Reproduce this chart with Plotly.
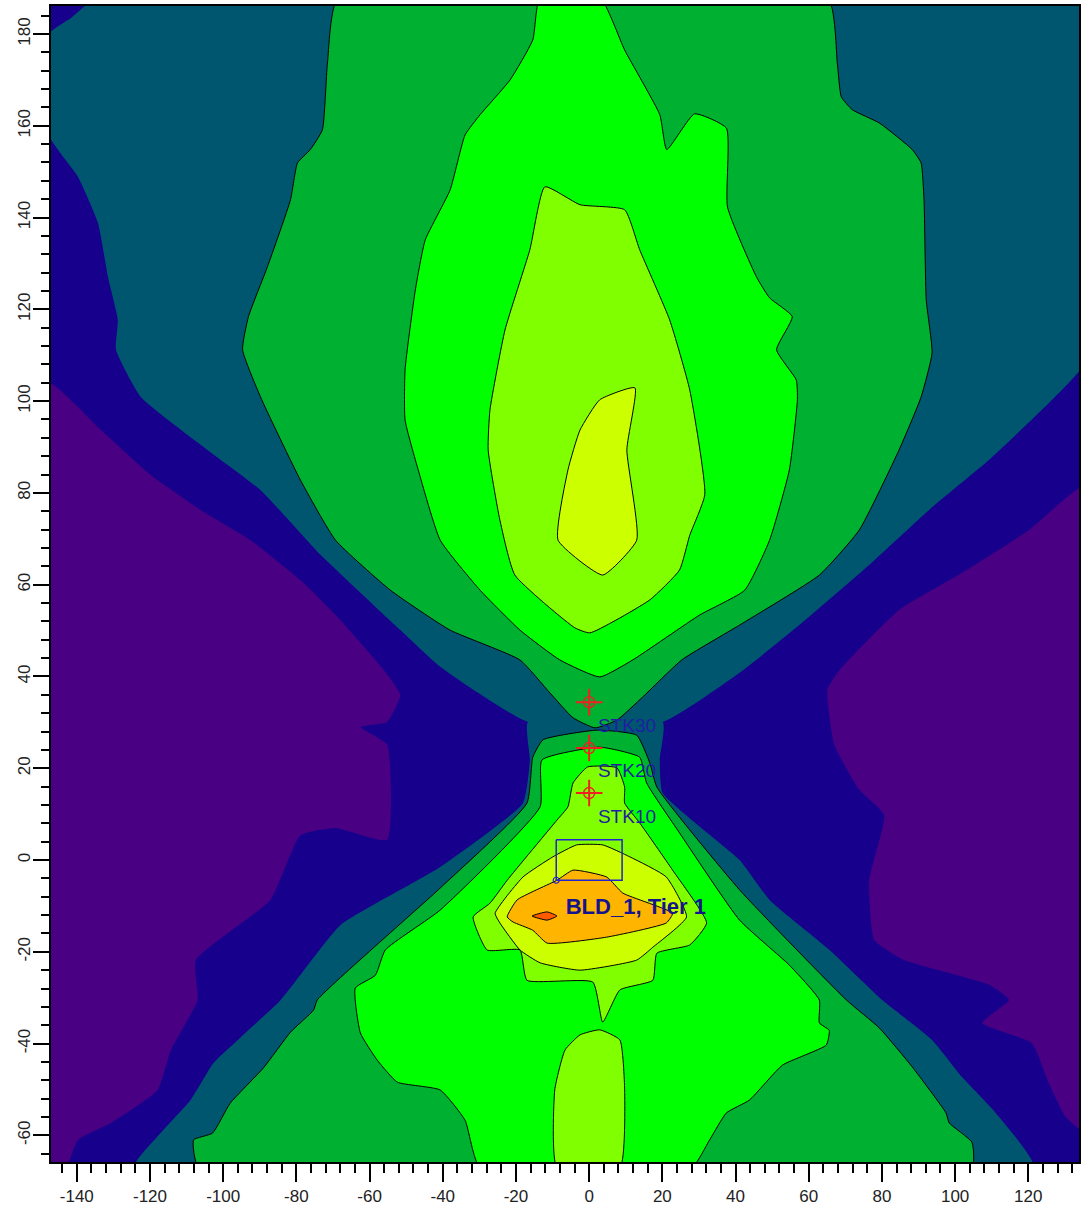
import plotly.graph_objects as go

# --- contour band outlines (x, y in axis units) ---
purple_left_x = [-148,-133.4,-119.8,-106.2,-92.5,-78.9,-68.0,-55.7,-51.6,-55.2,-62.5,-55.2,-55.2,-69.3,-78.9,-87.1,-107.5,-107,-114.3,-117.9,-130.7,-139.7,-143,-148]
purple_left_y = [104,93.7,83.9,76.3,69.7,61,52.3,41,36,30.1,29,25.1,4.4,7,5.4,-8.7,-21.8,-30.5,-41.4,-50.1,-57.3,-61,-67,-67]
purple_right_x = [136,120.2,101.1,84.7,68.4,65.1,67,73.8,80.6,76.5,77.9,86.1,109.3,114.7,107.4,121,125.6,130.2,136]
purple_right_y = [81.7,71.9,62.2,54.5,41.4,37.1,25.1,15.3,9.8,-4.4,-17.4,-21.8,-27.2,-30.5,-35.5,-39.9,-48.6,-56,-59.5]

teal_upper_x = [-148,-141.6,-134.2,136,136,126.5,109.3,92.9,76.5,57.4,41.1,20.1,-16.7,-40.7,-51.6,-73.4,-89.8,-106.2,-122.5,-129.3,-128.8,-131.5,-134.2,-139.7,-148]
teal_upper_y = [179.8,183.5,188,188,109,100.3,87.2,76.3,64.3,51.2,40.8,30.1,30.1,42.1,50.1,66.5,80.6,90.5,100.9,111.2,117.7,127.1,138.8,148.9,158.4]
teal_lower_x = [-16.7,20.1,19.3,20.1,41.1,49.3,65.7,80.1,93.7,101.9,111.1,121.5,-124.4,-117.1,-108.9,-102.6,-95.2,-84.3,-68,-51.6,-40.7,-18.1,-16.2]
teal_lower_y = [30.1,30.1,21.8,14.6,0,-8.7,-19.6,-30.5,-39.2,-47.3,-55.1,-67,-67,-59.5,-52.3,-44.2,-38.6,-30.5,-14.2,-6.5,-1.5,12.4,21.8]

mid_upper_x = [-68.5,-71.5,-72.9,-76.2,-79.7,-81.6,-87.9,-93.1,-94.7,-89.8,-78.9,-69.3,-54.3,-38,-18.9,-10.7,-4.4,1.6,7.6,14.6,25.3,41.1,62.9,73.8,84.7,90.7,93.7,92.1,91.5,90.7,88.3,79.3,71.9,68.9,67.8,65.1]
mid_upper_y = [188,173.7,159.1,154.8,151.9,143.9,129.3,118.4,111.2,100.9,82.8,69.7,58.8,50.1,43.6,36.4,31,28.8,30.5,35.5,43.6,51.2,62.1,71.9,89.4,100.9,110.5,122.1,143.9,151.9,154.8,160.6,163.5,166.3,173.7,188]
mid_lower_x = [-12.6,2.1,13,16.6,18.5,41.1,70.3,79.3,88.3,97.5,98.4,104.6,104.6,-106.7,-108.1,-102.9,-98.1,-89,-81.6,-75.3,-74.3,-40.7,-17,-15.4]
mid_lower_y = [26.2,28.3,27.2,21.1,15.9,-6.5,-30.5,-36.6,-45.1,-55.1,-57.3,-61.5,-67,-67,-61,-59.5,-53,-45.3,-37.5,-32.7,-30.5,-6.1,12.4,22.4]

bright_upper_x = [-13.4,-15.4,-21.6,-29.8,-33.9,-38,-44.8,-47.5,-50.3,-50.3,-46.7,-40.7,-29.8,-18.9,-8,2.9,11.9,30.2,42.5,49.3,54.7,56.9,56.6,51.2,55.5,49.3,45.7,37.8,37.5,28.8,21.2,19.3,9.7,2.9]
bright_upper_y = [188,178.7,170,162.4,158,146,135.1,124.2,106.8,95.9,85,69.7,58.8,50.1,43.6,39.9,43.6,53.4,58.8,69.7,85,100.3,104.6,111.2,118.4,122.5,127.1,142.3,159.5,162.6,154.8,162.4,176.5,188]
bright_lower_x = [-12.9,2.9,13.8,15.7,24.7,41.1,54.7,62.9,62.9,65.6,64.8,52.8,43.8,37.5,32.9,28,-29.8,-33.9,-40.7,-52.4,-57.9,-62.5,-63.9,-58.4,-55.7,-40.7,-13.4]
bright_lower_y = [21.8,24.6,22.4,16.8,5.9,-13.1,-22.9,-30.5,-35.5,-37.1,-40.3,-44.7,-52.3,-55.1,-61,-67,-67,-56.7,-50.1,-48.4,-43.6,-37.7,-27.9,-25.1,-19.6,-10.9,11.6]

lime_upper_x = [-12.1,-2.5,9.7,13.8,22,27.5,31.6,27.5,24.7,16.6,0.2,-3.9,-20.3,-24.4,-27.6,-27.1,-23,-16.2]
lime_upper_y = [146.7,142.8,141.7,133,117.7,102.4,79.6,70.8,63.2,56.7,49.5,50.6,62.1,74.1,89.4,98.1,115.5,133]
lime_lower_x = [-0.4,7.6,9.7,9.7,13.8,22.8,32.1,27.5,18.5,17.4,8.4,3.7,1,-17,-18.9,-27.9,-31.7,-27.1,-22.4,-8.8,-5.8,-4.4]
lime_lower_y = [20.3,20.1,15.9,12.4,8.1,-2.2,-13.7,-18.5,-20.3,-26.2,-28.3,-35.3,-26.6,-26.2,-19.6,-19.6,-12.4,-9.4,-4.4,8.7,11.6,16.8]
lime_bottom_x = [2.9,8.4,9.7,8.4,-8.8,-9.4,-6.6,-2.5]
lime_bottom_y = [-37,-39.2,-50.1,-67,-67,-50.1,-41.4,-38.1]

yellow_upper_x = [2.9,12.5,10.3,13,3.7,-8.5,-5.8,-2.5]
yellow_upper_y = [100.3,102.9,89.4,69.7,62.1,69.7,85,93.7]
yellow_lower_x = [-25.7,-18.1,-9.9,-3.4,3.7,11.1,21.1,26.6,17.4,13,-2.5,-13.4,-18.9,-24.4]
yellow_lower_y = [-11.6,-3.7,0.7,3.3,3.3,0.7,-3.7,-12.4,-19,-21.8,-24,-22.4,-19.6,-13.7]

orange_x = [-22.4,-19.7,-8.8,-4.4,4.8,9.2,22.8,21.1,4.8,-11.5,-15.4,-20.8]
orange_y = [-12.4,-8.7,-4.4,-2.2,-3.7,-7.2,-11.6,-13.7,-16.8,-18.1,-15.3,-13.5]
red_x = [-15.6,-11.5,-8.8,-11.5]
red_y = [-12.2,-11.3,-12.2,-13.1]

stack_x = [0, 0, 0]
stack_y = [34.4, 24.4, 14.6]
stack_names = ["STK30", "STK20", "STK10"]
stack_label_x = [2.4, 2.4, 2.4]
stack_label_y = [29, 19.2, 9]
building_x = [-9, 9, 9, -9, -9]
building_y = [4.4, 4.4, -4.4, -4.4, 4.4]
building_label = "BLD_1, Tier 1"

x_tick_vals = [-140,-120,-100,-80,-60,-40,-20,0,20,40,60,80,100,120]
y_tick_vals = [-60,-40,-20,0,20,40,60,80,100,120,140,160,180]
x_tick_text = ["-140","-120","-100","-80","-60","-40","-20","0","20","40","60","80","100","120"]
y_tick_text = ["-60","-40","-20","0","20","40","60","80","100","120","140","160","180"]

NAVY = "#16008c"; PURPLE = "#4a0082"; TEAL = "#00566f"; MID = "#00b030"
BRIGHT = "#00ff00"; LIME = "#80ff00"; YELLOW = "#ccff00"; ORANGE = "#ffb400"; RED = "#ff5a00"

bands = [
    (purple_left_x, purple_left_y, PURPLE, 0),
    (purple_right_x, purple_right_y, PURPLE, 0),
    (teal_upper_x, teal_upper_y, TEAL, 0),
    (teal_lower_x, teal_lower_y, TEAL, 0),
    (mid_upper_x, mid_upper_y, MID, 1),
    (mid_lower_x, mid_lower_y, MID, 1),
    (bright_upper_x, bright_upper_y, BRIGHT, 1),
    (bright_lower_x, bright_lower_y, BRIGHT, 1),
    (lime_upper_x, lime_upper_y, LIME, 1),
    (lime_lower_x, lime_lower_y, LIME, 1),
    (lime_bottom_x, lime_bottom_y, LIME, 1),
    (yellow_upper_x, yellow_upper_y, YELLOW, 1),
    (yellow_lower_x, yellow_lower_y, YELLOW, 1),
    (orange_x, orange_y, ORANGE, 1),
    (red_x, red_y, RED, 1),
]

fig = go.Figure()
for bx, by, colour, width in bands:
    fig.add_trace(go.Scatter(
        x=bx + bx[:1], y=by + by[:1], mode="lines", fill="toself", fillcolor=colour,
        line=dict(color="#000000" if width else colour, width=width, shape="spline", smoothing=0.45),
        hoverinfo="skip", showlegend=False))

fig.add_trace(go.Scatter(x=building_x, y=building_y, mode="lines",
                         line=dict(color="#2222d0", width=1.5), showlegend=False))
fig.add_trace(go.Scatter(x=building_x[3:4], y=building_y[3:4], mode="markers",
                         marker=dict(symbol="circle-open", size=6, color="#2222d0", line=dict(width=1.2)),
                         showlegend=False))
fig.add_trace(go.Scatter(x=stack_x, y=stack_y, mode="markers",
                         marker=dict(symbol="cross-thin-open", size=19, color="#f02020", line=dict(width=2, color="#f02020")),
                         showlegend=False))
fig.add_trace(go.Scatter(x=stack_x, y=stack_y, mode="markers",
                         marker=dict(symbol="circle-open", size=11, color="#f02020", line=dict(width=1.4, color="#f02020")),
                         showlegend=False))
fig.add_trace(go.Scatter(x=stack_label_x, y=stack_label_y, mode="text", text=stack_names,
                         textposition="middle right",
                         textfont=dict(family="Liberation Sans", size=19, color="#1f1fa0"),
                         showlegend=False))
fig.add_trace(go.Scatter(x=[-6.4], y=[-10.5], mode="text", text=[building_label],
                         textposition="middle right",
                         textfont=dict(family="Liberation Sans", size=22, color="#14148c", weight="bold"),
                         showlegend=False))

axis_common = dict(showgrid=False, zeroline=False, showline=True, linecolor="#000000", linewidth=1.5,
                   mirror=True, ticks="outside", tickcolor="#000000", tickwidth=1.5,
                   tickfont=dict(family="Liberation Sans", size=17, color="#222222"), tickmode="array")

fig.update_xaxes(range=[-147.05, 133.85], tickvals=x_tick_vals, ticktext=x_tick_text, ticklen=18,
                 minor=dict(tick0=0, dtick=4, ticks="outside", ticklen=9, tickcolor="#000000", tickwidth=1.5),
                 **axis_common)
fig.update_yaxes(range=[-65.8, 186.1], tickvals=y_tick_vals, ticktext=y_tick_text, ticklen=16, tickangle=-90,
                 ticklabelstandoff=-4,
                 minor=dict(tick0=0, dtick=4, ticks="outside", ticklen=8, tickcolor="#000000", tickwidth=1.5),
                 **axis_common)
fig.update_layout(width=1081, height=1212, autosize=False,
                  margin=dict(l=51, r=0, t=6, b=50, pad=0),
                  plot_bgcolor=NAVY, paper_bgcolor="#ffffff", showlegend=False)

fig.write_html("out.html", config=dict(displayModeBar=False),
               post_script="document.body.style.margin='0';document.body.style.overflow='hidden';")
